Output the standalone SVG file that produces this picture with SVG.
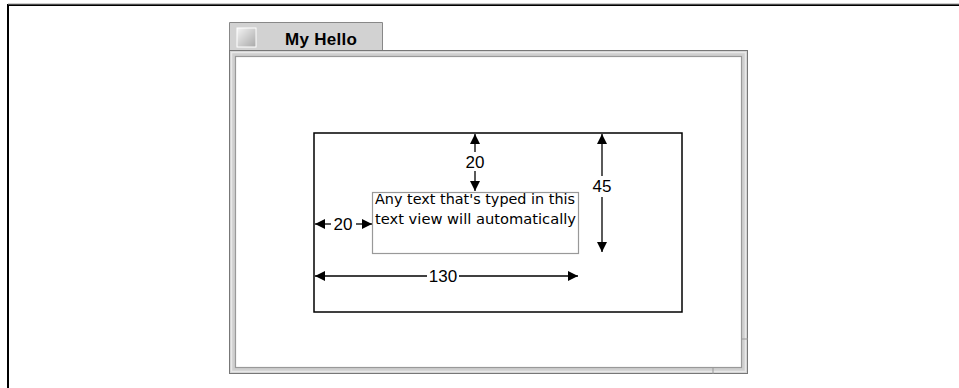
<svg xmlns="http://www.w3.org/2000/svg" width="959" height="388" viewBox="0 0 959 388">
<style>
.lbl{font-family:"Liberation Sans",Arial,sans-serif;font-size:17px;fill:#000}
.txt{font-family:"DejaVu Sans",Verdana,sans-serif;font-size:13.5px;fill:#000}
.dim{stroke:#000;stroke-width:1.3;fill:none}
</style>
<defs>
<marker id="ah" viewBox="0 0 10 10" refX="10" refY="5" markerWidth="10" markerHeight="10" markerUnits="userSpaceOnUse" orient="auto-start-reverse">
<path d="M0,0 L10,5 L0,10 Z" fill="#000"/>
</marker>
<linearGradient id="ic" x1="0" y1="0" x2="1" y2="1">
<stop offset="0" stop-color="#f4f4f4"/><stop offset="1" stop-color="#a8a8a8"/>
</linearGradient>
</defs>
<rect width="959" height="388" fill="#fff"/>
<g id="frame">
<path d="M8,388 V5 H959" fill="none" stroke="#000" stroke-width="2"/>
<path d="M8,4 H959" stroke="#999" stroke-width="1"/>
</g>
<g id="window">
<path d="M229.5,50 V22.5 H382.5 V50" fill="#d2d2d2" stroke="#888" stroke-width="1"/>
<rect x="237" y="28" width="19" height="19" fill="url(#ic)" stroke="#fff" stroke-width="1"/>
<text x="321" y="45" text-anchor="middle" textLength="72" style="font-family:'Liberation Sans',Arial,sans-serif;font-size:17px;font-weight:bold">My Hello</text>
<rect x="229.5" y="50.5" width="518" height="323" fill="#cfcfcf" stroke="#777" stroke-width="1"/>
<rect x="231.5" y="52.5" width="514" height="319" fill="none" stroke="#e8e8e8" stroke-width="1.5"/>
<rect x="235.5" y="56.5" width="506" height="311" fill="#fff" stroke="#999" stroke-width="1.2"/>
<line x1="713" y1="368" x2="713" y2="374" stroke="#999"/>
<line x1="742" y1="339" x2="748" y2="339" stroke="#999"/>
</g>
<g id="view">
<rect x="314" y="133" width="368" height="179" fill="none" stroke="#000" stroke-width="1.5"/>
</g>
<g id="textview">
<rect x="372.5" y="192.5" width="206" height="61" fill="#fff" stroke="#999" stroke-width="1.2"/>
<text class="txt" x="375" y="204" textLength="200" lengthAdjust="spacingAndGlyphs">Any text that's typed in this</text>
<text class="txt" x="375" y="224" textLength="201" lengthAdjust="spacingAndGlyphs">text view  will automatically</text>
</g>
<g id="connectors">
<line class="dim" x1="475" y1="152" x2="475" y2="134" marker-end="url(#ah)"/>
<line class="dim" x1="475" y1="171" x2="475" y2="191" marker-end="url(#ah)"/>
<line class="dim" x1="602" y1="176" x2="602" y2="134" marker-end="url(#ah)"/>
<line class="dim" x1="602" y1="197" x2="602" y2="252" marker-end="url(#ah)"/>
<line class="dim" x1="331" y1="224" x2="315" y2="224" marker-end="url(#ah)"/>
<line class="dim" x1="356" y1="224" x2="372" y2="224" marker-end="url(#ah)"/>
<line class="dim" x1="427" y1="276" x2="315" y2="276" marker-end="url(#ah)"/>
<line class="dim" x1="459" y1="276" x2="578" y2="276" marker-end="url(#ah)"/>
</g>
<g id="labels">
<text class="lbl" x="475" y="168" text-anchor="middle">20</text>
<text class="lbl" x="602" y="192" text-anchor="middle">45</text>
<text class="lbl" x="343" y="230" text-anchor="middle">20</text>
<text class="lbl" x="443" y="282" text-anchor="middle">130</text>
</g>
</svg>
